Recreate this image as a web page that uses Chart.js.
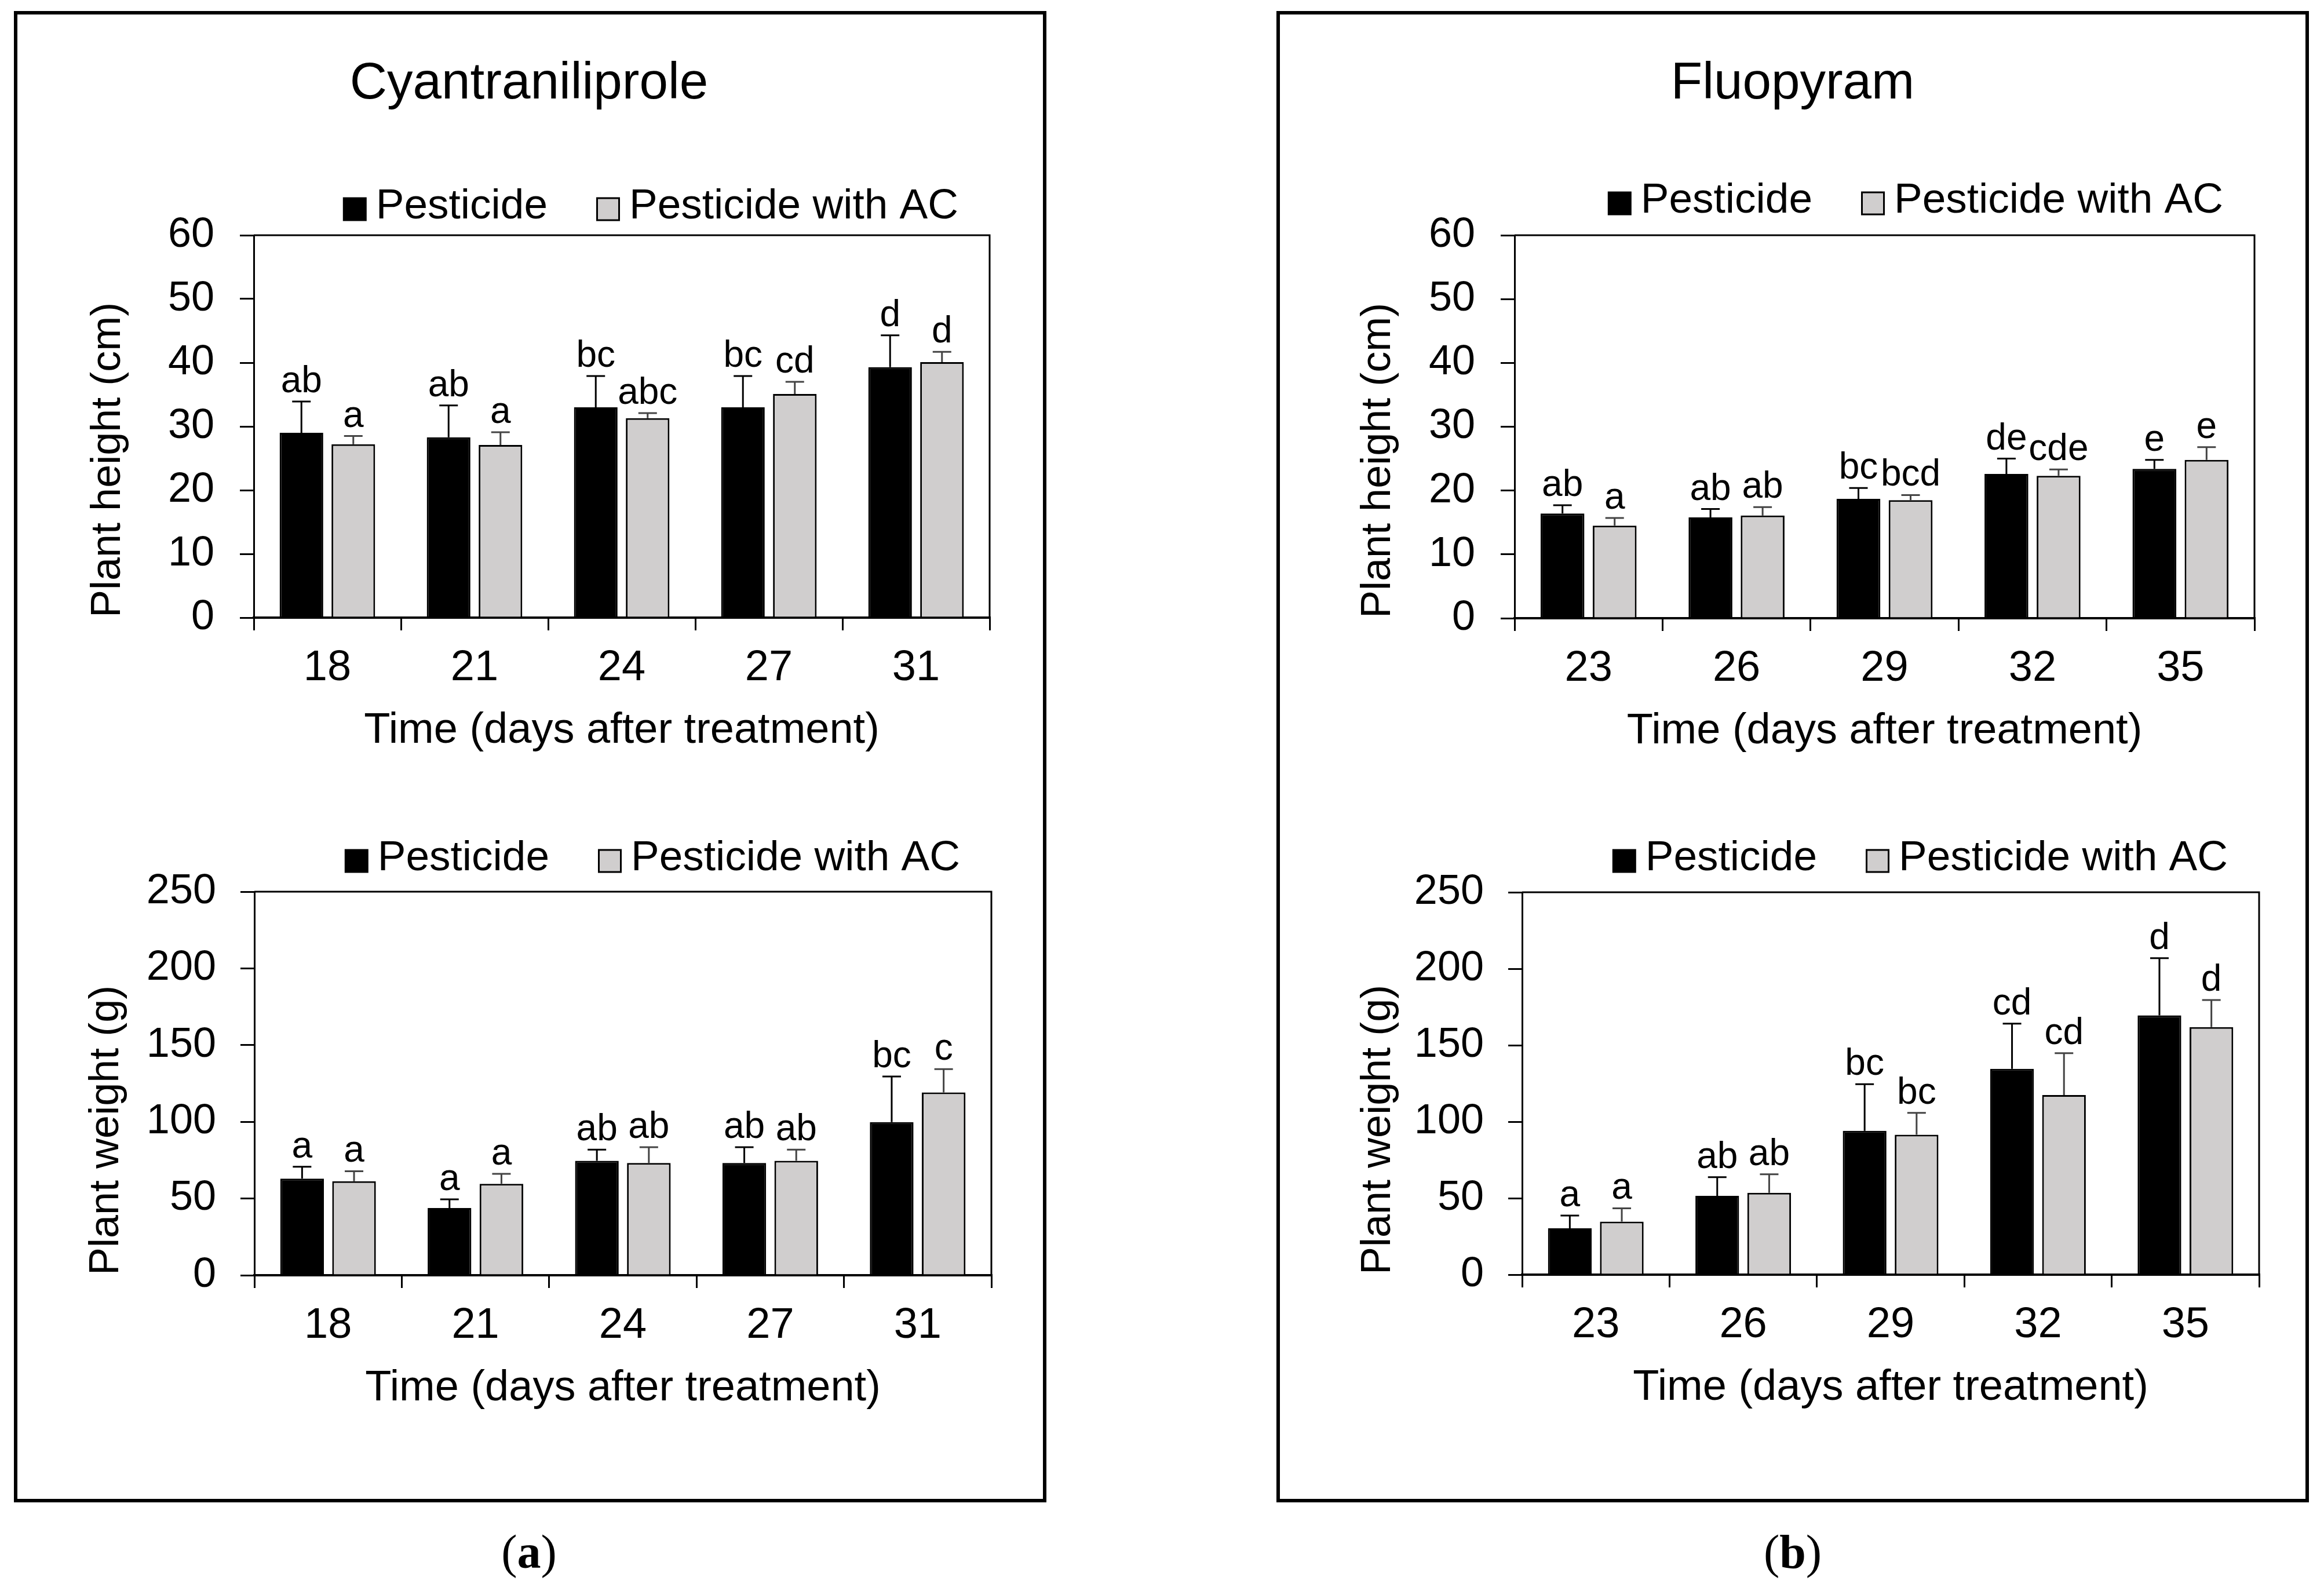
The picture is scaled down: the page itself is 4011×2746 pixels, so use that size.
<!DOCTYPE html>
<html><head><meta charset="utf-8">
<script src="https://cdn.jsdelivr.net/npm/chart.js@4.4.1/dist/chart.umd.min.js"></script>
<style>
html,body{margin:0;padding:0;background:#fff;}
body{position:relative;width:4011px;height:2746px;overflow:hidden;font-family:"Liberation Sans",Arial,sans-serif;color:#000;}
.panel{position:absolute;border:6px solid #000;box-sizing:border-box;}
.ptitle{position:absolute;font-size:89px;line-height:89px;white-space:nowrap;text-align:center;width:1000px;}
.cap{position:absolute;font-family:"Liberation Serif","Times New Roman",serif;font-size:82px;line-height:82px;width:400px;text-align:center;}
canvas{position:absolute;}
</style></head>
<body>
<div class="panel" style="left:24px;top:19px;width:1782px;height:2574px"></div>
<div class="panel" style="left:2203px;top:19px;width:1782px;height:2574px"></div>
<div class="ptitle" style="left:413px;top:95px">Cyantraniliprole</div>
<div class="ptitle" style="left:2594px;top:95px">Fluopyram</div>
<div class="cap" style="left:713px;top:2638px">(<b>a</b>)</div>
<div class="cap" style="left:2894px;top:2638px">(<b>b</b>)</div>
<canvas id="aTop"></canvas>
<canvas id="aBot"></canvas>
<canvas id="bTop"></canvas>
<canvas id="bBot"></canvas>
<script>
// ---------- data ----------
const seriesNames = ['Pesticide', 'Pesticide with AC'];
const daysA = ['18', '21', '24', '27', '31'];
const daysB = ['23', '26', '29', '32', '35'];

// Cyantraniliprole - plant height (cm)
const aHeightPest = [29.0, 28.3, 33.0, 33.0, 39.3];
const aHeightPestSd = [4.9, 5.0, 4.9, 4.9, 5.0];
const aHeightAC = [27.2, 27.1, 31.3, 35.1, 40.1];
const aHeightACSd = [1.3, 2.0, 0.8, 1.9, 1.6];
const aHeightPestLetters = ['ab', 'ab', 'bc', 'bc', 'd'];
const aHeightACLetters = ['a', 'a', 'abc', 'cd', 'd'];

// Cyantraniliprole - plant weight (g)
const aWeightPest = [63.0, 43.8, 74.6, 73.2, 99.8];
const aWeightPestSd = [7.7, 5.7, 7.3, 10.3, 29.7];
const aWeightAC = [61.3, 59.6, 73.2, 74.6, 119.1];
const aWeightACSd = [6.5, 6.5, 10.3, 7.3, 15.2];
const aWeightPestLetters = ['a', 'a', 'ab', 'ab', 'bc'];
const aWeightACLetters = ['a', 'a', 'ab', 'ab', 'c'];

// Fluopyram - plant height (cm)
const bHeightPest = [16.4, 15.8, 18.7, 22.6, 23.4];
const bHeightPestSd = [1.3, 1.3, 1.7, 2.4, 1.4];
const bHeightAC = [14.5, 16.1, 18.5, 22.3, 24.8];
const bHeightACSd = [1.2, 1.3, 0.8, 1.0, 2.0];
const bHeightPestLetters = ['ab', 'ab', 'bc', 'de', 'e'];
const bHeightACLetters = ['a', 'ab', 'bcd', 'cde', 'e'];

// Fluopyram - plant weight (g)
const bWeightPest = [30.3, 51.5, 94.0, 134.6, 169.5];
const bWeightPestSd = [8.3, 12.2, 30.5, 29.5, 37.4];
const bWeightAC = [34.7, 53.5, 91.5, 117.4, 161.8];
const bWeightACSd = [8.7, 12.1, 14.3, 27.4, 17.7];
const bWeightPestLetters = ['a', 'ab', 'bc', 'cd', 'd'];
const bWeightACLetters = ['a', 'ab', 'bc', 'cd', 'd'];

const heightTicks = {max: 60, step: 10};
const weightTicks = {max: 250, step: 50};
const heightTitle = 'Plant height (cm)';
const weightTitle = 'Plant weight (g)';
const xTitle = 'Time (days after treatment)';

// ---------- rendering ----------
Chart.defaults.font.family = '"Liberation Sans", Arial, sans-serif';
Chart.defaults.color = '#000';

const FONT = '"Liberation Sans", Arial, sans-serif';
const PEST_COLOR = '#000000';
const AC_COLOR = '#d0cece';

function decorPlugin(legendDy) {
  return {
    id: 'decor',
    afterDatasetsDraw(chart) {
      const {ctx, scales: {y}} = chart;
      chart.data.datasets.forEach((ds, i) => {
        const meta = chart.getDatasetMeta(i);
        meta.data.forEach((bar, j) => {
          const v = ds.data[j];
          const top = v + ds.sd[j];
          const y0 = y.getPixelForValue(v);
          const y1 = y.getPixelForValue(top);
          ctx.save();
          ctx.strokeStyle = ds.errColor;
          ctx.lineWidth = 3;
          ctx.beginPath();
          ctx.moveTo(bar.x, y0);
          ctx.lineTo(bar.x, y1);
          ctx.moveTo(bar.x - 16, y1);
          ctx.lineTo(bar.x + 16, y1);
          ctx.stroke();
          ctx.fillStyle = '#000';
          ctx.font = '64px ' + FONT;
          ctx.textAlign = 'center';
          ctx.textBaseline = 'alphabetic';
          ctx.fillText(ds.letters[j], bar.x, y1 - 16);
          ctx.restore();
        });
      });
    },
    afterDraw(chart) {
      const {ctx, chartArea: a} = chart;
      ctx.save();
      // plot frame (top and right)
      ctx.strokeStyle = '#000';
      ctx.lineWidth = 3;
      ctx.beginPath();
      ctx.moveTo(a.left, a.top);
      ctx.lineTo(a.right, a.top);
      ctx.lineTo(a.right, a.bottom);
      ctx.stroke();
      // legend
      ctx.font = '73px ' + FONT;
      const items = chart.data.datasets.map(ds => ({label: ds.label, fill: ds.backgroundColor, w: ctx.measureText(ds.label).width}));
      const SQ = 41, G1 = 16, G2 = 84;
      const total = items.reduce((s, it) => s + SQ + G1 + it.w, 0) + G2 * (items.length - 1);
      let x = a.right - 54 - total;
      const cy = a.top + legendDy;
      items.forEach((it, k) => {
        const sy = cy - SQ / 2 + 4;
        ctx.fillStyle = it.fill;
        ctx.fillRect(x, sy, SQ, SQ);
        if (k > 0) {
          ctx.lineWidth = 3;
          ctx.strokeStyle = '#000';
          ctx.strokeRect(x + 1.5, sy + 1.5, SQ - 3, SQ - 3);
        }
        x += SQ + G1;
        ctx.fillStyle = '#000';
        ctx.textAlign = 'left';
        ctx.textBaseline = 'middle';
        ctx.fillText(it.label, x, cy);
        x += it.w + G2;
      });
      ctx.restore();
    }
  };
}

function makeChart(id, geom, cats, pest, pestSd, pestL, ac, acSd, acL, yt, yTitle, tickPad) {
  const cv = document.getElementById(id);
  const cl = Math.round(geom.TX - 70);
  const ct = geom.PT - 130;
  const W = geom.PR + 40 - cl;
  const H = geom.PB + 270 - ct;
  cv.width = W; cv.height = H;
  cv.style.left = cl + 'px'; cv.style.top = ct + 'px';
  cv.style.width = W + 'px'; cv.style.height = H + 'px';
  const padLeft = geom.TX - 43.2 - cl;
  const yWidth = geom.PL - (cl + padLeft);
  return new Chart(cv, {
    type: 'bar',
    data: {
      labels: cats,
      datasets: [
        {label: seriesNames[0], data: pest, sd: pestSd, letters: pestL, errColor: '#000',
         backgroundColor: PEST_COLOR, borderColor: '#000', borderWidth: 3,
         categoryPercentage: 0.705, barPercentage: 0.84},
        {label: seriesNames[1], data: ac, sd: acSd, letters: acL, errColor: '#444',
         backgroundColor: AC_COLOR, borderColor: '#000', borderWidth: 3,
         categoryPercentage: 0.705, barPercentage: 0.84}
      ]
    },
    options: {
      responsive: false,
      animation: false,
      devicePixelRatio: 1,
      events: [],
      layout: {padding: {left: padLeft, right: 40, top: 130, bottom: 10}},
      plugins: {legend: {display: false}, tooltip: {enabled: false}, title: {display: false}},
      scales: {
        x: {
          offset: true,
          grid: {display: true, drawOnChartArea: false, drawTicks: true, tickLength: 22, color: '#000', lineWidth: 3, offset: true},
          border: {display: true, color: '#000', width: 4},
          ticks: {font: {size: 74}, color: '#000', padding: 21.6, maxRotation: 0, autoSkip: false},
          title: {display: true, text: xTitle, font: {size: 74}, color: '#000', padding: {top: 0, bottom: 19.6}},
          afterFit: s => { s.height = 260; }
        },
        y: {
          min: 0, max: yt.max,
          grid: {display: true, drawOnChartArea: false, drawTicks: true, tickLength: 24, color: '#000', lineWidth: 3},
          border: {display: true, color: '#000', width: 3},
          ticks: {stepSize: yt.step, font: {size: 72}, color: '#000', padding: tickPad},
          title: {display: true, text: yTitle, align: 'start', font: {size: 72}, color: '#000', padding: 0},
          afterFit: s => { s.width = yWidth; }
        }
      }
    },
    plugins: [decorPlugin(geom.LDY)]
  });
}

const gATop = {PL: 438, PR: 1708, PT: 406, PB: 1066, TX: 187, LDY: -49};
const gABot = {PL: 439, PR: 1711, PT: 1539, PB: 2201, TX: 184, LDY: -57};
const gBTop = {PL: 2614, PR: 3891, PT: 406, PB: 1067, TX: 2379, LDY: -59};
const gBBot = {PL: 2627, PR: 3899, PT: 1540, PB: 2200, TX: 2379, LDY: -58};

makeChart('aTop', gATop, daysA, aHeightPest, aHeightPestSd, aHeightPestLetters, aHeightAC, aHeightACSd, aHeightACLetters, heightTicks, heightTitle, 44);
makeChart('aBot', gABot, daysA, aWeightPest, aWeightPestSd, aWeightPestLetters, aWeightAC, aWeightACSd, aWeightACLetters, weightTicks, weightTitle, 42);
makeChart('bTop', gBTop, daysB, bHeightPest, bHeightPestSd, bHeightPestLetters, bHeightAC, bHeightACSd, bHeightACLetters, heightTicks, heightTitle, 44);
makeChart('bBot', gBBot, daysB, bWeightPest, bWeightPestSd, bWeightPestLetters, bWeightAC, bWeightACSd, bWeightACLetters, weightTicks, weightTitle, 42);
</script>
</body></html>
